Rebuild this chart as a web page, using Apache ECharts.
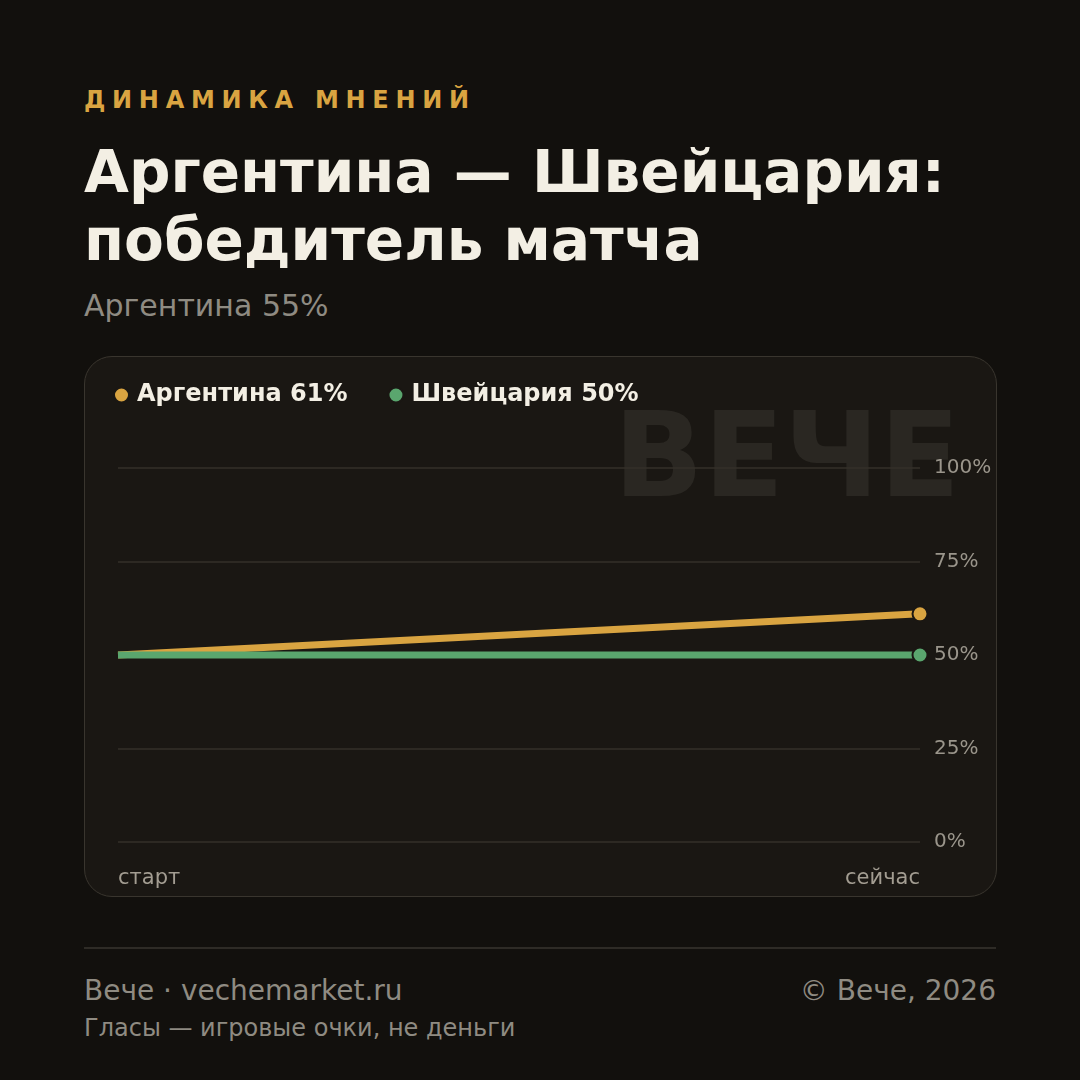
<!DOCTYPE html>
<html>
<head>
<meta charset="utf-8">
<script src="https://cdn.jsdelivr.net/npm/echarts@6/dist/echarts.min.js"></script>
<style>
  html, body { margin: 0; padding: 0; }
  body {
    width: 1080px; height: 1080px; background: #12100d; position: relative; overflow: hidden;
    font-family: "DejaVu Sans", sans-serif;
  }
  .kicker {
    position: absolute; left: 84px; top: 86px; color: #d9a441; font-weight: bold;
    font-size: 24px; letter-spacing: 6.7px; line-height: 28px;
  }
  .title {
    position: absolute; left: 84px; top: 138px; color: #f3efe4; font-weight: bold;
    font-size: 58px; line-height: 68px;
  }
  .sub {
    position: absolute; left: 84px; top: 287px; color: #8f8b82; font-size: 30px; line-height: 38px;
  }
  .card {
    position: absolute; left: 84px; top: 356px; width: 911px; height: 539px;
    background: #1a1713; border: 1.5px solid #39352e; border-radius: 28px; overflow: hidden;
  }
  #chart { width: 911px; height: 539px; }
  .rule { position: absolute; left: 84px; top: 947px; width: 912px; height: 2px; background: #2e2b26; }
  .foot1 { position: absolute; left: 84px; top: 973px; color: #8f8b82; font-size: 28px; line-height: 36px; }
  .foot2 { position: absolute; right: 84px; top: 973px; color: #8f8b82; font-size: 28px; line-height: 36px; }
  .foot3 { position: absolute; left: 84px; top: 1012px; color: #8f8b82; font-size: 24px; line-height: 32px; }
</style>
</head>
<body>
<div class="kicker">ДИНАМИКА МНЕНИЙ</div>
<div class="title">Аргентина — Швейцария:<br>победитель матча</div>
<div class="sub">Аргентина 55%</div>
<div class="card"><div id="chart"></div></div>
<div class="rule"></div>
<div class="foot1">Вече · vechemarket.ru</div>
<div class="foot2">© Вече, 2026</div>
<div class="foot3">Гласы — игровые очки, не деньги</div>
<script>
const categories = ['старт', 'сейчас']
const argentina = [50, 61]
const switzerland = [50, 50]
const yTicks = [0, 25, 50, 75, 100]

const chart = echarts.init(document.getElementById('chart'))
const last = categories.length - 1
const endDot = (v, p) => (p.dataIndex === last ? 15 : 0)
const seriesData = { 'Аргентина': argentina, 'Швейцария': switzerland }

const option = {
  animation: false,
  textStyle: { fontFamily: 'DejaVu Sans' },
  graphic: [
    {
      type: 'text',
      z: -10,
      silent: true,
      right: 36,
      top: 49,
      style: {
        text: 'ВЕЧЕ',
        font: 'bold 118px "DejaVu Sans"',
        fill: '#2a2722'
      }
    }
  ],
  legend: {
    left: 28,
    top: 26,
    padding: 0,
    icon: 'circle',
    itemWidth: 15,
    itemHeight: 15,
    itemGap: 40,
    textStyle: { color: '#f3efe4', fontSize: 24, fontWeight: 'bold', padding: [0, 0, 0, 3] },
    formatter: name => name + ' ' + seriesData[name][last] + '%'
  },
  grid: { left: 33, right: 76, top: 111, bottom: 54, containLabel: false },
  xAxis: {
    type: 'category',
    data: categories,
    boundaryGap: false,
    axisLine: { show: false },
    axisTick: { show: false },
    axisLabel: {
      color: '#a39d92',
      fontSize: 21,
      margin: 26,
      alignMinLabel: 'left',
      alignMaxLabel: 'right'
    }
  },
  yAxis: {
    type: 'value',
    position: 'right',
    min: yTicks[0],
    max: yTicks[yTicks.length - 1],
    interval: 25,
    axisLine: { show: false },
    axisTick: { show: false },
    axisLabel: { color: '#9a958b', fontSize: 20, margin: 14, formatter: '{value}%' },
    splitLine: { lineStyle: { color: '#34302a', width: 1.5 } }
  },
  series: [
    {
      name: 'Аргентина',
      type: 'line',
      data: argentina,
      lineStyle: { color: '#d9a441', width: 7 },
      itemStyle: { color: '#d9a441', borderColor: '#1a1713', borderWidth: 2 },
      symbol: 'circle',
      symbolSize: endDot,
      showSymbol: true
    },
    {
      name: 'Швейцария',
      type: 'line',
      data: switzerland,
      lineStyle: { color: '#5aa66e', width: 7 },
      itemStyle: { color: '#5aa66e', borderColor: '#1a1713', borderWidth: 2 },
      symbol: 'circle',
      symbolSize: endDot,
      showSymbol: true
    }
  ]
}
chart.setOption(option)
</script>
</body>
</html>
